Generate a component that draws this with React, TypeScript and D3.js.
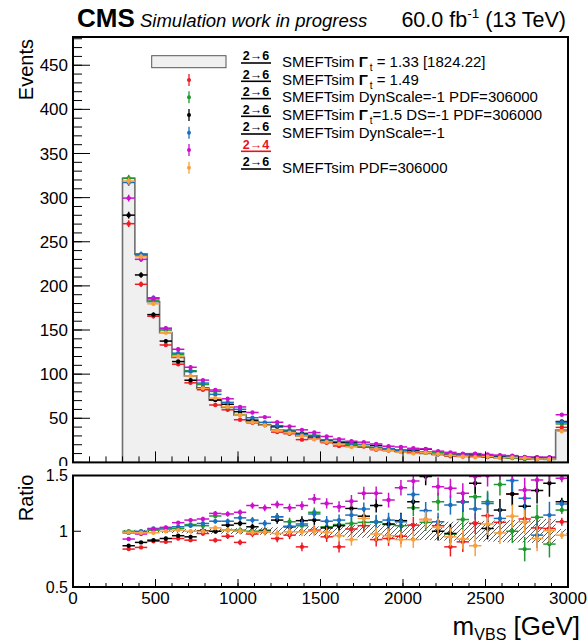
import React from 'react';
import * as d3 from 'd3';

const FONT = "'Liberation Sans', Arial, Helvetica, sans-serif";

// bin edges in GeV (75 GeV bins from 300 to 3000; last bin includes overflow)
const BIN_EDGES = d3.range(300, 3001, 75);

// reference histogram: SMEFTsim Gamma_t = 1.33 [1824.22]
const REF = [322, 236, 182, 147, 119, 98, 84, 70.7, 62.4, 53.7, 46, 42.4, 36.7, 33.7, 30, 26.2, 23.5, 21.6, 18.9, 17.1,
  15.6, 14.3, 12.6, 11, 10, 9.1, 8.2, 7.4, 6.7, 6, 5.3, 4.9, 4.5, 4.1, 3.8, 36.6];
// relative stat. uncertainty of the reference (hatched band)
const REF_ERR = [0.012, 0.013, 0.014, 0.015, 0.017, 0.019, 0.021, 0.023, 0.025, 0.028, 0.03, 0.032, 0.035, 0.038, 0.041, 0.044,
  0.047, 0.05, 0.055, 0.058, 0.062, 0.066, 0.07, 0.074, 0.078, 0.082, 0.085, 0.088, 0.09, 0.093, 0.096, 0.1, 0.1, 0.105, 0.11, 0.02];
// relative error of the comparison points
const PT_ERR = [0.012, 0.013, 0.014, 0.015, 0.016, 0.018, 0.02, 0.022, 0.024, 0.026, 0.028, 0.03, 0.033, 0.036, 0.04, 0.043,
  0.046, 0.05, 0.054, 0.058, 0.062, 0.066, 0.07, 0.074, 0.078, 0.082, 0.086, 0.09, 0.094, 0.098, 0.1, 0.105, 0.11, 0.115, 0.12, 0.035];

// ratios to the reference
const R_RED = [0.84, 0.855, 0.91, 0.905, 0.935, 0.92, 0.98, 0.92, 0.955, 0.9, 0.975, 0.995, 0.935, 0.965, 0.86, 1.01, 0.95, 0.86,
  1.02, 1.05, 0.925, 0.935, 0.955, 1.055, 1.105, 1.05, 0.86, 0.905, 1.07, 1.14, 1.08, 1.335, 1.11, 1.03, 1.025, 1.085];
const R_GREEN = [1.0, 0.995, 1.01, 1.02, 1.025, 1.06, 1.05, 1.137, 1.01, 1.01, 1.0, 1.01, 1.13, 1.085, 1.05, 1.17, 1.04, 1.06,
  1.07, 1.08, 1.08, 1.06, 1.05, 1.21, 1.08, 1.265, 0.975, 1.105, 1.31, 1.265, 1.42, 1.0, 0.84, 1.125, 0.885, 1.19];
const R_BLACK = [0.87, 0.9, 0.92, 0.935, 0.96, 0.95, 1.005, 1.0, 1.055, 1.07, 1.04, 1.0, 1.1, 1.04, 1.095, 1.1, 1.03, 1.05,
  1.205, 1.135, 1.23, 1.065, 1.095, 1.265, 1.49, 1.0, 0.98, 1.265, 1.43, 1.025, 1.19, 1.335, 1.225, 1.365, 1.43, 1.265];
const R_BLUE = [0.985, 1.0, 1.025, 1.03, 1.04, 1.05, 1.07, 1.09, 1.09, 1.12, 1.1, 1.07, 1.13, 1.045, 1.065, 1.155, 1.09, 1.1,
  1.145, 1.2, 1.085, 1.1, 1.085, 1.33, 1.185, 1.085, 1.235, 1.265, 1.2, 1.25, 1.115, 1.455, 1.295, 0.965, 1.145, 1.245];
const R_MAGENTA = [0.93, 0.975, 1.02, 1.035, 1.077, 1.1, 1.11, 1.16, 1.155, 1.17, 1.23, 1.21, 1.24, 1.21, 1.23, 1.29, 1.25, 1.22,
  1.27, 1.34, 1.34, 1.28, 1.39, 1.45, 1.53, 1.4, 1.385, 1.34, 1.49, 1.5, 1.56, 1.57, 1.37, 1.46, 1.56, 1.475];
const R_ORANGE = [0.99, 0.987, 0.987, 1.0, 1.01, 1.0, 1.0, 1.03, 1.01, 1.0, 0.99, 0.995, 0.98, 0.995, 0.995, 1.0, 0.99, 0.96,
  0.925, 1.115, 0.975, 0.96, 0.925, 0.925, 1.105, 1.035, 0.95, 0.93, 0.87, 1.065, 0.985, 1.135, 1.085, 0.935, 1.005, 0.965];

const SERIES_COLORS = ['#ee1c24', '#1f9a2e', '#000000', '#1c6fc0', '#cc10cc', '#f7a040'];
const SERIES_RATIOS = [R_RED, R_GREEN, R_BLACK, R_BLUE, R_MAGENTA, R_ORANGE];

const LEGEND_TAGS = ['2→6', '2→6', '2→6', '2→6', '2→6', '2→4', '2→6'];
const LEGEND_TEXT = ['SMEFTsim |Γ|t| = 1.33 [1824.22]', 'SMEFTsim |Γ|t| = 1.49', 'SMEFTsim DynScale=-1 PDF=306000',
  'SMEFTsim |Γ|t|=1.5 DS=-1 PDF=306000', 'SMEFTsim DynScale=-1', '', 'SMEFTsim PDF=306000'];

const X_MAJOR = d3.range(0, 3001, 500);
const X_MINOR = d3.range(0, 3001, 100);
const Y_MAJOR = d3.range(0, 451, 50);
const Y_MINOR = d3.range(0, 481, 10);
const R_TICKS = [0.5, 1, 1.5];

const W = 587, H = 643;
const L = 73, R = 568;
const TOP_T = 37, TOP_B = 462.4;
const RAT_T = 475.5, RAT_B = 587;

function LegendText({ text, x, y }: { text: string; x: number; y: number }) {
  const parts = text.split('|');
  if (parts.length === 1) return <text x={x} y={y} fontSize={15} fontFamily={FONT}>{text}</text>;
  return (
    <text x={x} y={y} fontSize={15} fontFamily={FONT}>
      {parts[0]}
      <tspan fontWeight="bold">{parts[1]}</tspan>
      <tspan fontSize={10} dx={2} dy={4}>{parts[2]}</tspan>
      <tspan dy={-4}>{parts[3]}</tspan>
    </text>
  );
}

export default function App() {
  const x = d3.scaleLinear().domain([0, 3000]).range([L, R]);
  const yT = d3.scaleLinear().domain([0, 482]).range([TOP_B, TOP_T]);
  const yR = d3.scaleLinear().domain([0.5, 1.5]).range([RAT_B, RAT_T]);

  const bins = REF.map((v, i) => ({ lo: BIN_EDGES[i], hi: BIN_EDGES[i + 1], v }));

  const histPts: [number, number][] = [[x(bins[0].lo), yT(0)]];
  bins.forEach(b => { histPts.push([x(b.lo), yT(b.v)]); histPts.push([x(b.hi), yT(b.v)]); });
  histPts.push([x(bins[bins.length - 1].hi), yT(0)]);
  const histPath = d3.line()(histPts) as string;

  const legendRows = [61.7, 80, 97.3, 115, 132.7, 150, 167.7];

  return (
    <svg width={W} height={H} style={{ position: 'absolute', left: 0, top: 0, background: '#fff' }}>
      <defs>
        <clipPath id="clipTop"><rect x={0} y={0} width={W} height={466} /></clipPath>
        <clipPath id="clipRat"><rect x={L} y={RAT_T} width={R - L} height={RAT_B - RAT_T} /></clipPath>
        <pattern id="hatch" patternUnits="userSpaceOnUse" width={5} height={5}>
          <path d="M0,5 L5,0 M-1,1 L1,-1 M4,6 L6,4" stroke="#333" strokeWidth={0.8} />
        </pattern>
      </defs>
      <rect x={0} y={0} width={W} height={H} fill="#fff" />

      {/* header */}
      <text x={77} y={27} fontFamily={FONT} fontWeight="bold" fontSize={26}>CMS</text>
      <text x={140} y={27} fontFamily={FONT} fontStyle="italic" fontSize={18.5}>Simulation work in progress</text>
      <text x={566} y={27} fontFamily={FONT} fontSize={21.5} textAnchor="end">
        60.0 fb<tspan fontSize={13.5} dy={-9}>-1</tspan><tspan dy={9}> (13 TeV)</tspan>
      </text>

      {/* upper histogram */}
      <path d={histPath} fill="#f0f0f0" stroke="#6e6e6e" strokeWidth={1.6} />

      {/* upper points */}
      {SERIES_RATIOS.map((rat, s) => (
        <g key={'up' + s} stroke={SERIES_COLORS[s]} fill={SERIES_COLORS[s]} strokeWidth={1.5} clipPath="url(#clipTop)">
          {bins.map((b, i) => {
            const v = b.v * rat[i];
            const e = b.v * PT_ERR[i];
            const cx = x((b.lo + b.hi) / 2);
            return (
              <g key={i}>
                <line x1={x(b.lo)} x2={x(b.hi)} y1={yT(v)} y2={yT(v)} />
                <line x1={cx} x2={cx} y1={yT(v - e)} y2={yT(v + e)} />
                <circle cx={cx} cy={yT(v)} r={2.2} stroke="none" />
              </g>
            );
          })}
        </g>
      ))}

      {/* upper axes */}
      <g stroke="#000" strokeWidth={1}>
        {Y_MINOR.map(t => <line key={'ym' + t} x1={L} x2={L + 9} y1={yT(t)} y2={yT(t)} />)}
        {Y_MAJOR.map(t => <line key={'yM' + t} x1={L} x2={L + 17} y1={yT(t)} y2={yT(t)} />)}
        {X_MINOR.map(t => <line key={'xm' + t} x1={x(t)} x2={x(t)} y1={TOP_B} y2={TOP_B - 6} />)}
        {X_MAJOR.map(t => <line key={'xM' + t} x1={x(t)} x2={x(t)} y1={TOP_B} y2={TOP_B - 11} />)}
      </g>
      <g clipPath="url(#clipTop)">
        {Y_MAJOR.map(t => (
          <text key={'yl' + t} x={68} y={yT(t)} dy="0.36em" textAnchor="end" fontFamily={FONT} fontSize={17}>{t}</text>
        ))}
      </g>
      <rect x={L} y={TOP_T} width={R - L} height={TOP_B - TOP_T} fill="none" stroke="#000" strokeWidth={2} />
      <text transform={`translate(33,${TOP_T + 2}) rotate(-90)`} textAnchor="end" fontFamily={FONT} fontSize={20}>Events</text>

      {/* legend */}
      <rect x={151.7} y={55.7} width={74.3} height={12} fill="#f0f0f0" stroke="#555" strokeWidth={1} />
      {SERIES_COLORS.map((c, s) => {
        const yy = legendRows[s + 1];
        return (
          <g key={'lg' + s} stroke={c} fill={c} strokeWidth={1.3}>
            <line x1={189} x2={189} y1={yy - 6} y2={yy + 6} />
            <circle cx={189} cy={yy} r={2} stroke="none" />
          </g>
        );
      })}
      {LEGEND_TAGS.map((tag, i) => {
        const yy = legendRows[i];
        const col = tag === '2→4' ? '#e8121c' : '#000';
        return (
          <g key={'tag' + i}>
            <text x={256} y={yy - 1.5} textAnchor="middle" fontFamily={FONT} fontSize={12.5} fontWeight="bold" fill={col}>{tag}</text>
            <line x1={241} x2={271} y1={yy + 1.3} y2={yy + 1.3} stroke={col} strokeWidth={1.6} />
          </g>
        );
      })}
      {LEGEND_TEXT.map((t, i) => t ? <LegendText key={'lt' + i} text={t} x={282} y={legendRows[i] + 5} /> : null)}

      {/* ratio panel */}
      <g>
        {bins.map((b, i) => (
          <rect key={'h' + i} x={x(b.lo)} width={x(b.hi) - x(b.lo)} y={yR(1 + REF_ERR[i])}
            height={yR(1 - REF_ERR[i]) - yR(1 + REF_ERR[i])} fill="url(#hatch)" />
        ))}
      </g>
      {SERIES_RATIOS.map((rat, s) => (
        <g key={'rt' + s} stroke={SERIES_COLORS[s]} fill={SERIES_COLORS[s]} strokeWidth={1.5} clipPath="url(#clipRat)">
          {bins.map((b, i) => {
            const v = rat[i];
            const e = PT_ERR[i];
            const cx = x((b.lo + b.hi) / 2);
            return (
              <g key={i}>
                <line x1={x(b.lo)} x2={x(b.hi)} y1={yR(v)} y2={yR(v)} />
                <line x1={cx} x2={cx} y1={yR(v - e)} y2={yR(v + e)} />
                <circle cx={cx} cy={yR(v)} r={2.2} stroke="none" />
              </g>
            );
          })}
        </g>
      ))}
      <g stroke="#000" strokeWidth={1}>
        {R_TICKS.map(t => <line key={'rt' + t} x1={L} x2={L + 8} y1={yR(t)} y2={yR(t)} />)}
        {X_MINOR.map(t => <line key={'rxm' + t} x1={x(t)} x2={x(t)} y1={RAT_B} y2={RAT_B - 4} />)}
        {X_MAJOR.map(t => <line key={'rxM' + t} x1={x(t)} x2={x(t)} y1={RAT_B} y2={RAT_B - 8} />)}
      </g>
      <rect x={L} y={RAT_T} width={R - L} height={RAT_B - RAT_T} fill="none" stroke="#000" strokeWidth={2} />
      {R_TICKS.map(t => (
        <text key={'rl' + t} x={68} y={yR(t)} dy="0.36em" textAnchor="end" fontFamily={FONT} fontSize={16}>{t}</text>
      ))}
      {X_MAJOR.map(t => (
        <text key={'xl' + t} x={x(t)} y={604} textAnchor="middle" fontFamily={FONT} fontSize={17}>{t}</text>
      ))}
      <text transform={`translate(33,${RAT_T - 1}) rotate(-90)`} textAnchor="end" fontFamily={FONT} fontSize={20}>Ratio</text>
      <text x={580} y={635} textAnchor="end" fontFamily={FONT} fontSize={26}>
        m<tspan fontSize={16} dy={5}>VBS</tspan><tspan dy={-5}> [GeV]</tspan>
      </text>
    </svg>
  );
}
